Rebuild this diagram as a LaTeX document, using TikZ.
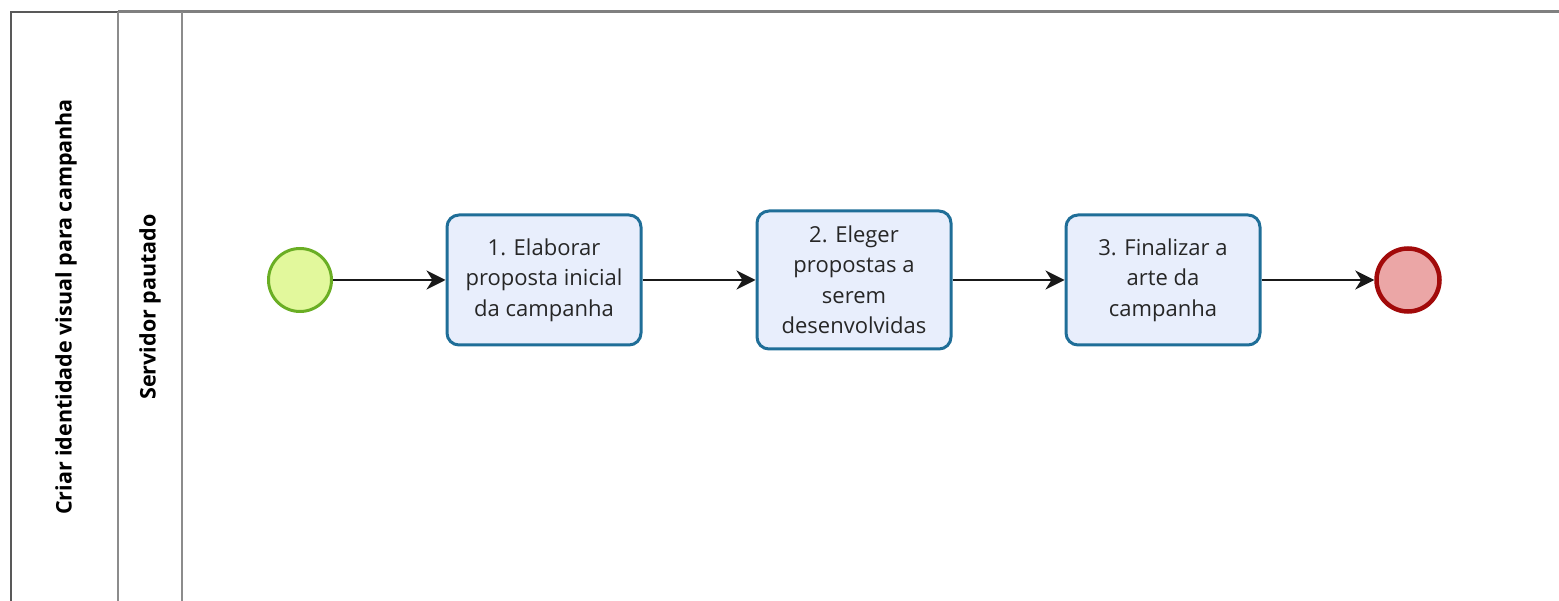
\documentclass[tikz,border=0pt]{standalone}
\usepackage{fontspec}
\setmainfont{Open Sans}
\usetikzlibrary{arrows.meta}
\definecolor{taskfill}{HTML}{E8EEFC}
\definecolor{taskline}{HTML}{1F6E98}
\definecolor{startfill}{HTML}{E2F89C}
\definecolor{startline}{HTML}{6AAE24}
\definecolor{endfill}{HTML}{EBA6A6}
\definecolor{endline}{HTML}{A20A0A}
\definecolor{poolline}{HTML}{6E6E6E}
\tikzset{
  taskbox/.style={draw=taskline, fill=taskfill, line width=3pt, rounded corners=12pt,
    minimum width=194pt, inner xsep=4pt, align=center, font=\fontsize{22}{30.5}\selectfont, text=black!85},
  startev/.style={circle, draw=startline, fill=startfill, line width=3pt, minimum size=63pt, inner sep=0pt},
  endev/.style={circle, draw=endline, fill=endfill, line width=4.5pt, minimum size=63pt, inner sep=0pt},
  flow/.style={draw=black!90, line width=2pt, -{Stealth[length=19pt, width=19pt, inset=6pt]}},
  lanehead/.style={rotate=90, font=\bfseries\fontsize{21.5}{24}\selectfont},
  border/.style={draw=poolline, line width=2.2pt}
}
\begin{document}
\begin{tikzpicture}[x=1pt, y=-1pt]
\useasboundingbox (0,0) rectangle (1559,601);
% pool and lane frame
\draw[border, draw=black!65] (11,601) -- (11,12) -- (118,12);
\draw[border, draw=black!50, line width=3pt] (118,12) -- (1559,12);
\draw[border, draw=black!45] (118,12) -- (118,601);
\draw[border, draw=black!45] (182,12) -- (182,601);
% headers
\node[lanehead] (pool) at (66,307) {Criar identidade visual para campanha};
\node[lanehead] (lane) at (150,307) {Servidor pautado};
% events and tasks
\node[startev] (start) at (300,280) {};
\node[taskbox, minimum height=130pt] (t1) at (544,280) {1. Elaborar\\proposta inicial\\da campanha};
\node[taskbox, minimum height=138pt] (t2) at (854,280) {2. Eleger\\propostas a\\serem\\desenvolvidas};
\node[taskbox, minimum height=130pt] (t3) at (1163,280) {3. Finalizar a\\arte da\\campanha};
\node[endev] (end) at (1408,280) {};
% sequence flows
\draw[flow] (start) -- (t1);
\draw[flow] (t1) -- (t2);
\draw[flow] (t2) -- (t3);
\draw[flow] (t3) -- (end);
\end{tikzpicture}
\end{document}
